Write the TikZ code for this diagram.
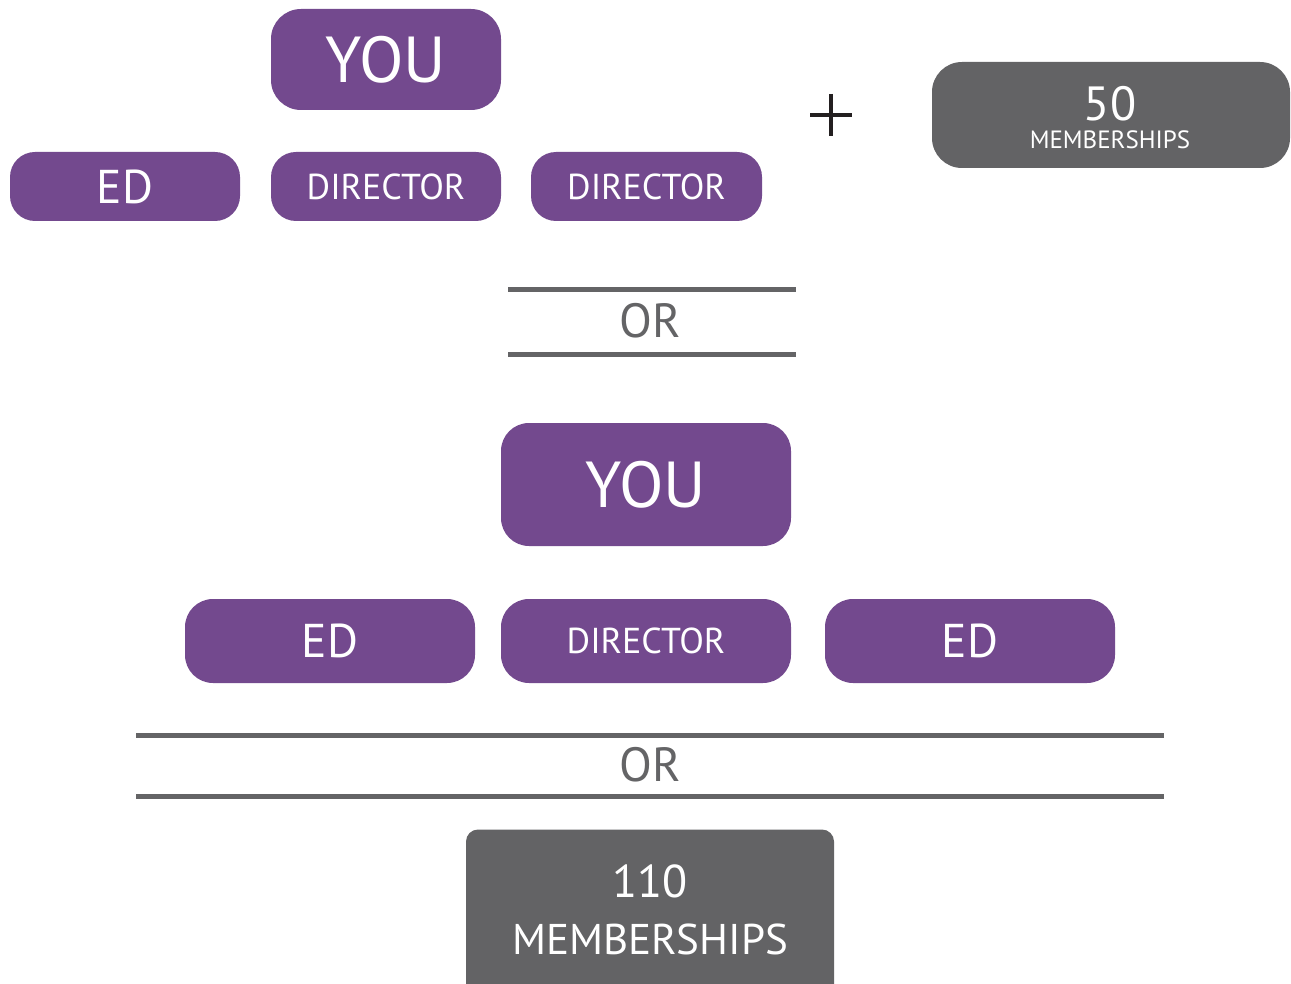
\documentclass[tikz,border=0pt]{standalone}
\usepackage{fontspec}
\setmainfont{PT Sans}
\definecolor{purp}{HTML}{73498E}
\definecolor{boxgray}{HTML}{636365}
\definecolor{linegray}{HTML}{646466}
\definecolor{plusc}{HTML}{231F20}
\tikzset{
  pbox/.style={fill=purp, text=white, inner sep=0pt, rounded corners=#1},
  pbox/.default=12.5pt,
  gbox/.style={fill=boxgray, text=white, inner sep=0pt, rounded corners=#1},
  gbox/.default=15pt,
  orline/.style={draw=linegray, line width=2.5pt},
  ortext/.style={text=linegray, inner sep=0pt, font=\fontsize{24}{28}\selectfont},
  wtext/.style={text=white, inner sep=0pt},
  youfont/.style={font=\fontsize{32.5}{38}\selectfont},
  edfont/.style={font=\fontsize{23.7}{28}\selectfont},
  dirfont/.style={font=\fontsize{18}{22}\selectfont}
}
\begin{document}
\begin{tikzpicture}[x=0.5pt, y=-0.5pt]
\useasboundingbox (0,0) rectangle (1291,984);
\clip (0,0) rectangle (1291,984);
% top group
\node[pbox=15pt, minimum width=115pt, minimum height=50.5pt, youfont] (you1) at (386,59.5) {YOU};
\node[pbox, minimum width=115pt, minimum height=34.5pt, edfont] (ed1) at (125,186.5) {ED};
\node[pbox, minimum width=115pt, minimum height=34.5pt, dirfont] (dir1) at (386,186.5) {DIRECTOR};
\node[pbox, minimum width=115.5pt, minimum height=34.5pt, dirfont] (dir2) at (646.5,186.5) {DIRECTOR};
% plus
\draw[plusc, line width=1.6pt] (810,115) -- (852,115);
\draw[plusc, line width=1.6pt] (831,94) -- (831,136);
% 50 memberships
\node[gbox, minimum width=179pt, minimum height=53pt] (m50) at (1111,115) {};
\node[wtext, font=\fontsize{24}{28}\selectfont] (n50) at (1110,104) {50};
\node[wtext, font=\fontsize{12.5}{15}\selectfont] (t50) at (1110,140) {MEMBERSHIPS};
% first OR
\coordinate (a1) at (508,290); \coordinate (b1) at (796,290);
\coordinate (a2) at (508,355); \coordinate (b2) at (796,355);
\draw[orline] (a1) -- (b1);
\draw[orline] (a2) -- (b2);
\node[ortext] (or1) at (650,321) {OR};
% second group
\node[pbox=14pt, minimum width=145pt, minimum height=61.5pt, youfont] (you2) at (646,484.5) {YOU};
\node[pbox=14pt, minimum width=145pt, minimum height=42pt, edfont] (ed2) at (330,641) {ED};
\node[pbox=14pt, minimum width=145pt, minimum height=42pt, dirfont] (dir3) at (646,641) {DIRECTOR};
\node[pbox=14pt, minimum width=145pt, minimum height=42pt, edfont] (ed3) at (970,641) {ED};
% second OR
\coordinate (c1) at (136,735); \coordinate (d1) at (1164,735);
\coordinate (c2) at (136,796); \coordinate (d2) at (1164,796);
\draw[orline] (c1) -- (d1);
\draw[orline] (c2) -- (d2);
\node[ortext] (or2) at (650,765) {OR};
% 110 memberships
\node[gbox=6pt, minimum width=184pt, minimum height=85pt] (m110) at (650,914.5) {};
\node[wtext, font=\fontsize{23}{27}\selectfont] (n110) at (650,881) {110};
\node[wtext, font=\fontsize{21.5}{26}\selectfont] (t110) at (650,939) {MEMBERSHIPS};
\end{tikzpicture}
\end{document}
